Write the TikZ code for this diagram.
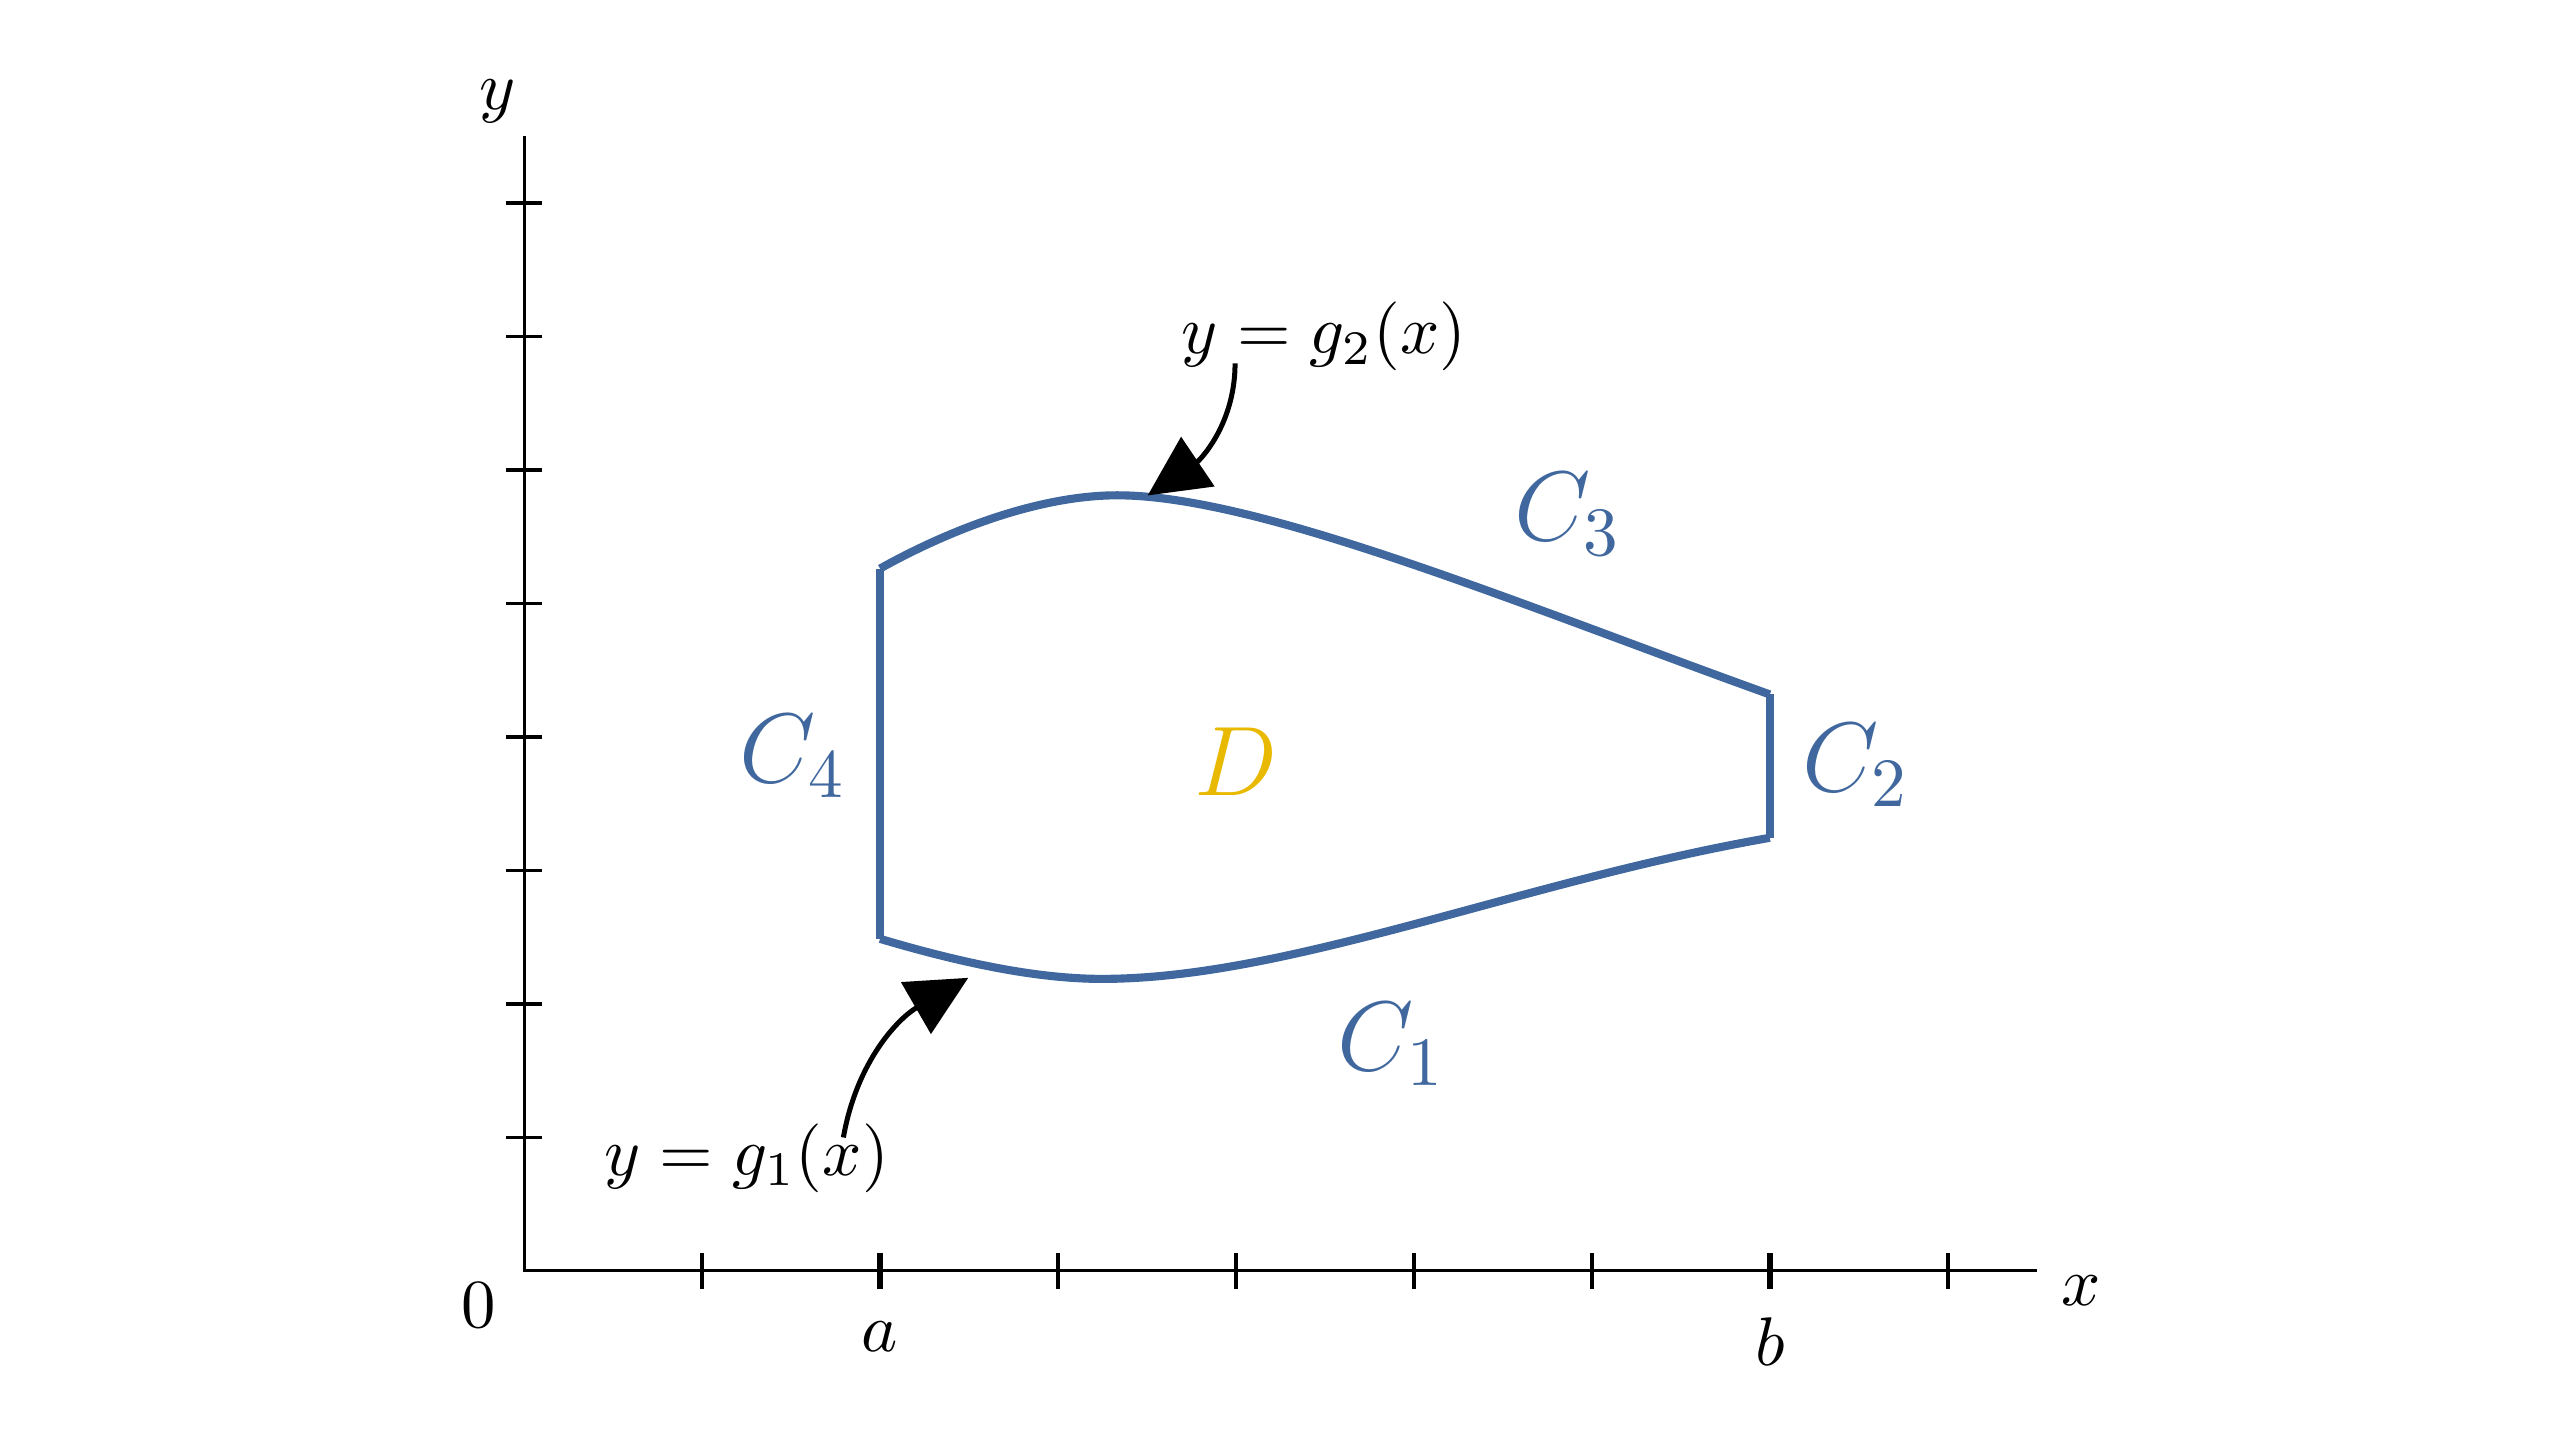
\RequirePackage{fix-cm}
\documentclass[tikz,border=0pt]{standalone}
\usetikzlibrary{arrows.meta}
\definecolor{curveblue}{RGB}{64,104,158}
\definecolor{regionyellow}{RGB}{233,185,0}

\begin{document}
\begin{tikzpicture}[x=1cm,y=0.75cm,
  every node/.style={font=\fontsize{11}{13}\selectfont},
  boundary/.style={curveblue,line width=1.3pt},
  curvelabel/.style={curveblue,anchor=base,font=\fontsize{15.8}{19}\selectfont},
  pointer/.style={line width=0.8pt,-{Triangle[length=3.4mm,width=3.3mm]}}]
\useasboundingbox (-2.945,-1.273) rectangle (11.44,9.522);

% axes and ticks
\draw[line width=0.5pt] (0,8.5) -- (0,0) -- (8.5,0);
\foreach \i in {1,3,4,5,6,8}
  \draw[line width=0.6pt] (\i,0) ++(0,-0.1cm) -- ++(0,0.2cm);
\foreach \i in {2,7}
  \draw[line width=0.9pt] (\i,0) ++(0,-0.1cm) -- ++(0,0.2cm);
\foreach \j in {1,...,8}
  \draw[line width=0.6pt] (0,\j) ++(-0.1cm,0) -- ++(0.2cm,0);

\node (o) at (-0.255,-0.256) {$0$};
\node (xl) at (8.75,-0.149) {$x$};
\node (yl) at (-0.149,8.765) {$y$};
\node (a) at (2,-0.493) {$a$};
\node (b) at (7,-0.528) {$b$};

% boundary of D
\draw[boundary] (2,2.488) .. controls (2.4,2.33) and (2.85,2.188) .. (3.247,2.188)
  .. controls (4.3,2.188) and (5.6,2.92) .. (7,3.245);
\draw[boundary] (7,3.245) -- (7,4.319);
\draw[boundary] (2,5.262) .. controls (2.4,5.56) and (2.9,5.811) .. (3.333,5.811)
  .. controls (4.133,5.811) and (5.6,4.99) .. (7,4.319);
\draw[boundary] (2,2.488) -- (2,5.262);

\node[curvelabel] (c1) at (4.873,1.502) {$C_1$};
\node[curvelabel] (c2) at (7.485,3.59) {$C_2$};
\node[curvelabel] (c3) at (5.866,5.474) {$C_3$};
\node[curvelabel] (c4) at (1.512,3.657) {$C_4$};
\node[curvelabel,regionyellow] (d) at (4.0,3.561) {$D$};

% the two graphs
\node (g2) at (4.495,7.0) {$y=g_2(x)$};
\node (g1) at (1.251,0.845) {$y=g_1(x)$};
\coordinate (g2from) at (3.995,6.80);
\coordinate (g2to) at (3.504,5.81);
\coordinate (g1from) at (1.794,1.0);
\coordinate (g1to) at (2.496,2.196);
\draw[pointer] (g2from) to[out=-90,in=34] (g2to);
\draw[pointer] (g1from) to[out=80,in=210] (g1to);
\end{tikzpicture}
\end{document}
